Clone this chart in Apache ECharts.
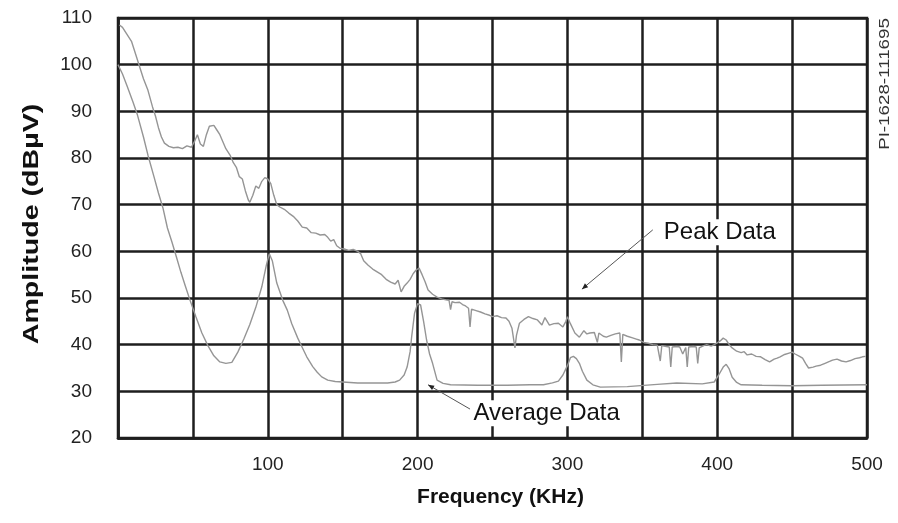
<!DOCTYPE html>
<html>
<head>
<meta charset="utf-8">
<script src="https://cdn.jsdelivr.net/npm/echarts@6/dist/echarts.min.js"></script>
<style>html,body{margin:0;padding:0;background:#fff;}#c{width:898px;height:523px;}</style>
</head>
<body>
<div id="c"></div>
<script>
// Frequency (KHz) / amplitude (dBµV) readings for the Peak trace
var peakX = [1,3,6,9,12,14,17,20,23,25,27,29,31,34,37,40,43,46,49,51,53,55,57,59,61,64,66,68,70,72,75,77,79,81,83,85,87,88,90,92,94,96,98,100,102,104,106,108,111,114,117,120,123,126,129,132,135,138,140,142,144,146,148,151,154,157,160,162,164,167,170,173,176,179,182,185,187,189,191,193,195,197,199,201,203,205,207,210,213,216,219,221,222,223,225,228,230,232,234,235,236,239,242,245,248,250,253,256,259,261,263,265,266,268,271,274,277,280,283,285,288,291,294,297,299,300,302,305,308,311,313,315,318,320,321,324,326,329,332,335,336,337,340,343,346,348,351,354,357,360,362,363,366,368,369,370,373,375,377,379,380,381,384,386,387,388,391,393,396,398,400,402,404,406,408,410,413,416,418,420,423,426,429,432,435,438,440,442,445,448,450,452,455,457,459,461,462,464,466,469,472,475,477,480,483,486,489,492,495,497,499];
var peakY = [108.5,108,106.5,105,102,100,97,94.5,91,89,86.5,84.5,83.2,82.5,82.2,82.3,82,82.6,82.3,83.5,85,83,82.5,85,86.8,87,86,85,83.5,82,80.5,79,78,76,75.5,73,71,70.5,72,74,73.5,75,75.8,75.5,74.5,72,70,69.5,69,68.2,67.5,66.5,65.2,65,64,63.9,63.5,63.6,63,62.2,62.5,61.2,60.7,60.5,60.2,60.4,60,59.5,58,57,56.2,55.6,55,54,53.4,53,53.8,51.3,52.5,53.2,54,55.2,56,56.4,55,53.5,51.7,50.8,50.2,49.8,49.6,49.5,47.5,49.2,49,49.1,48.6,48.3,47.8,43.8,47.6,47.3,47,46.6,46.3,46,46.2,45.8,45.7,45,43.5,39.3,42,44.6,45.4,46,45.6,45.3,44.2,45.8,44.2,44.5,44.6,43.8,45,46,44.5,42.5,41.6,43,42.3,42.5,42.6,40.5,42.5,41.8,41.6,42,42.3,42.5,36.3,42.2,41.8,41.5,41.2,41,40.5,40.3,40,39.9,36.5,39.8,39.6,39.5,35.2,39.5,39.6,39.5,38,39.4,35.2,39.5,39.6,39.5,36,39.3,39.8,40,39.7,40,40.4,40.8,41.4,41,40,39.3,38.6,38.3,38.5,37.8,38,37.5,37.4,36.8,36.3,36.9,37.1,37.4,37.9,38.2,38.4,38,37.5,37.1,36,35,34.6,35.2,35.4,35.6,36,36.4,36.7,36.9,36.5,36.3,36.6,37,37.2,37.4,37.5];
// Average trace
var avgX = [0,3,6,10,13,17,20,24,27,30,33,36,39,42,45,48,52,56,60,64,68,72,76,80,84,88,92,96,99,101,103,106,110,113,116,120,123,126,130,133,136,140,145,150,160,170,180,185,188,191,193,195,196,198,200,202,204,206,208,210,213,217,222,240,260,275,284,290,294,297,300,302,304,306,308,310,313,317,322,340,360,373,390,398,401,404,406,408,410,413,416,430,450,470,500];
var avgY = [100,98,95.5,92,89.2,84.5,80.6,76,72.5,69.3,65,62,58.8,55.5,52.5,49.6,46,42.5,39.8,37.6,36.3,36,36.2,38.4,41.2,44.3,48,52.4,57,59.5,58,53.2,49.5,47.4,44.5,41.4,39.4,37.4,35.3,34.1,33.1,32.4,32.1,32,31.8,31.8,31.8,32,32.4,33.5,35.2,38.5,41.6,46.8,48.8,48.5,45,41,38,36,32.4,31.7,31.4,31.3,31.3,31.4,31.4,31.8,32.2,33.5,35.5,37.2,37.5,37,36,34.3,32.4,31.4,30.9,31,31.5,31.8,31.6,32,33.5,35.2,35.8,34.8,33,31.9,31.4,31.3,31.2,31.3,31.4];
var xLabels = [100,200,300,400,500];
var yTitle = 'Amplitude (dBµV)';
var xTitle = 'Frequency (KHz)';
var docId = 'PI-1628-111695';
// annotations in data coordinates
var peakNote = {text:'Peak Data', at:[363,64.1], from:[357,64.6], to:[309.7,51.9]};
var avgNote = {text:'Average Data', at:[236,25.3], from:[235,26.2], to:[207,31.4]};

function zip(a,b){return a.map(function(v,i){return [v,b[i]];});}

var chart = echarts.init(document.getElementById('c'), null, {renderer:'canvas'});
var gridCol = '#1e1e1e';
var font = 'Liberation Sans';
chart.setOption({
  animation:false,
  backgroundColor:'#fff',
  grid:{left:118,right:31,top:18,bottom:85,show:true,borderColor:gridCol,borderWidth:2.5,backgroundColor:'transparent'},
  xAxis:{type:'value',min:0,max:500,interval:50,
    name:xTitle,nameLocation:'middle',nameGap:49,
    nameTextStyle:{fontFamily:font,fontWeight:'bold',fontSize:21,color:'#111',padding:[0,0,0,16]},
    axisLine:{show:true,lineStyle:{color:gridCol,width:2.5}},
    axisTick:{show:false},
    axisLabel:{margin:17,fontFamily:font,fontSize:19,color:'#222',
      formatter:function(v){return xLabels.indexOf(v)>=0?String(v):'';}},
    splitLine:{show:true,lineStyle:{color:gridCol,width:2.5}}},
  yAxis:{type:'value',min:20,max:110,interval:10,
    axisLine:{show:true,lineStyle:{color:gridCol,width:2.5}},
    axisTick:{show:false},
    axisLabel:{margin:26,fontFamily:font,fontSize:19,color:'#222'},
    splitLine:{show:true,lineStyle:{color:gridCol,width:2.5}}},
  series:[
    {name:'Peak Data',type:'line',data:zip(peakX,peakY),showSymbol:false,
      lineStyle:{color:'#959595',width:1.4},z:3},
    {name:'Average Data',type:'line',data:zip(avgX,avgY),showSymbol:false,
      lineStyle:{color:'#959595',width:1.4},z:3}
  ]
});

function px(p){return chart.convertToPixel({gridIndex:0},p);}
function note(n){
  var a=px(n.at), f=px(n.from), t=px(n.to);
  var ang=Math.atan2(t[1]-f[1],t[0]-f[0]);
  var L=6, W=2.5;
  var hx=t[0]-L*Math.cos(ang), hy=t[1]-L*Math.sin(ang);
  return [
    {type:'line',shape:{x1:f[0],y1:f[1],x2:t[0],y2:t[1]},style:{stroke:'#555',lineWidth:1},z:10},
    {type:'polygon',shape:{points:[[t[0],t[1]],[hx-W*Math.sin(ang),hy+W*Math.cos(ang)],[hx+W*Math.sin(ang),hy-W*Math.cos(ang)]]},style:{fill:'#222'},z:10},
    {type:'text',x:a[0],y:a[1],style:{text:n.text,fontFamily:font,fontSize:24,fill:'#111',
      textAlign:'left',textVerticalAlign:'middle',backgroundColor:'#fff',padding:[1,2]},z:11}
  ];
}
var g = [].concat(note(peakNote), note(avgNote));
// y-axis title (stretched along its reading direction as in the reference)
g.push({type:'text',x:32,y:224,rotation:Math.PI/2,scaleX:1.3,scaleY:1,
  style:{text:yTitle,fontFamily:font,fontWeight:'bold',fontSize:22,fill:'#111',textAlign:'center',textVerticalAlign:'middle'},z:11});
g.push({type:'text',x:885,y:84,rotation:Math.PI/2,scaleX:1.25,scaleY:1,
  style:{text:docId,fontFamily:font,fontSize:15,fill:'#333',textAlign:'center',textVerticalAlign:'middle'},z:11});
chart.setOption({graphic:g});
</script>
</body>
</html>
